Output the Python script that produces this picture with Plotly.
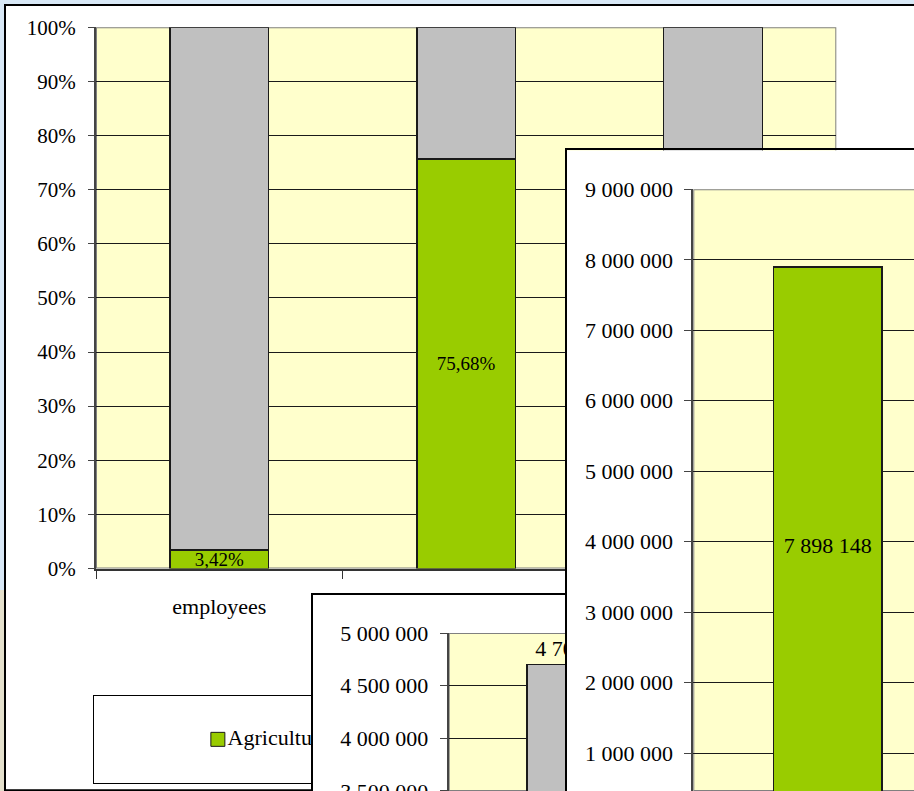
import plotly.graph_objects as go

W, H = 914, 791

# Share of agriculture vs. the rest of the economy (stacked to 100 %)
categories = ["employees", "farmland", "output"]
agri_share = [3.42, 75.68, 68.10]
other_share = [96.58, 24.32, 31.90]

# Absolute totals shown in the two single-bar panels
other_cat = ["other sectors"]
other_total = [4702531]
agri_cat = ["agriculture"]
agri_total = [7898148]

legend_names = ["Agriculture", "Other"]

GREEN = "#99CC00"
GRAY = "#C0C0C0"
YELLOW = "#FFFFCC"
FONT = "Liberation Serif"
INK = "#1a1a1a"


def fx(p):
    return p / W


def fy(p):
    return 1 - p / H


def pct(v):
    return f"{v:.2f}%".replace(".", ",")


def thousands(v):
    return f"{v:,}".replace(",", " ")


fig = go.Figure()

# --- subplot 1: stacked percentage chart ---------------------------------
fig.add_trace(go.Bar(
    x=categories, y=agri_share, name=legend_names[0], xaxis="x", yaxis="y",
    width=0.4, marker=dict(color=GREEN, line=dict(color=INK, width=1.5)),
    text=[pct(v) for v in agri_share], textposition="inside",
    insidetextanchor="middle", textangle=0, constraintext="none",
    textfont=dict(family=FONT, size=19, color="black"), hoverinfo="skip"))
fig.add_trace(go.Bar(
    x=categories, y=other_share, name=legend_names[1], xaxis="x", yaxis="y",
    width=0.4, marker=dict(color=GRAY, line=dict(color=INK, width=1.5)),
    hoverinfo="skip"))

# --- subplot 2: legend box of the percentage chart -----------------------
fig.add_trace(go.Scatter(
    x=[0.263, 0.62], y=[0.5, 0.5], xaxis="x2", yaxis="y2",
    mode="markers+text", text=legend_names, textposition="middle right",
    marker=dict(symbol="square", size=14, color=[GREEN, GRAY],
                line=dict(color=INK, width=1)),
    textfont=dict(family=FONT, size=22, color="black"), hoverinfo="skip"))

# --- subplot 3: frame of the "other sectors" panel -----------------------
fig.add_trace(go.Scatter(x=[None], y=[None], xaxis="x3", yaxis="y3",
                         mode="markers", hoverinfo="skip"))

# --- subplot 4: "other sectors" total -------------------------------------
fig.add_trace(go.Bar(
    x=other_cat, y=other_total, xaxis="x4", yaxis="y4", width=0.4,
    marker=dict(color=GRAY, line=dict(color=INK, width=1.5)),
    text=[thousands(v) for v in other_total], textposition="outside",
    textangle=0, constraintext="none",
    textfont=dict(family=FONT, size=22, color="black"), hoverinfo="skip"))

# --- subplot 5: frame of the agriculture panel ---------------------------
fig.add_trace(go.Scatter(x=[None], y=[None], xaxis="x5", yaxis="y5",
                         mode="markers", hoverinfo="skip"))

# --- subplot 6: agriculture total -----------------------------------------
fig.add_trace(go.Bar(
    x=agri_cat, y=agri_total, xaxis="x6", yaxis="y6", width=0.404,
    marker=dict(color=GREEN, line=dict(color=INK, width=1.5)),
    text=[thousands(v) for v in agri_total], textposition="inside",
    insidetextanchor="middle", textangle=0, constraintext="none",
    textfont=dict(family=FONT, size=22, color="black"), hoverinfo="skip"))

tickfont = dict(family=FONT, size=21, color="black")


def frame_axis(domain):
    return dict(domain=domain, range=[0, 1], visible=True, showticklabels=False,
                ticks="", showgrid=False, zeroline=False, showline=True,
                mirror=True, linecolor="black", fixedrange=True,
                automargin=False)


def value_yaxis(domain, rng, dtick, anchor):
    return dict(domain=domain, range=rng, dtick=dtick, tickformat=",d",
                anchor=anchor, showgrid=True, gridcolor=INK, gridwidth=1,
                zeroline=False, showline=True, linecolor="#444", linewidth=2,
                ticks="outside", ticklen=7, tickcolor="#444", tickwidth=1,
                tickfont=dict(family=FONT, size=22, color="black"),
                ticklabelstandoff=7, ticklabeloverflow="allow",
                fixedrange=True, automargin=False)


def cat_xaxis(domain, rng, anchor, cats):
    # category names sit below the visible page, so only the axis line shows
    return dict(domain=domain, range=rng, type="category", categoryarray=cats,
                anchor=anchor, showgrid=False, zeroline=False, showline=True,
                linecolor="#444", linewidth=2, ticks="", showticklabels=False,
                fixedrange=True, automargin=False)


layout = dict(
    width=W, height=H, autosize=False,
    margin=dict(l=0, r=0, t=0, b=0, pad=0, autoexpand=False),
    paper_bgcolor="#d8e8f6", plot_bgcolor="rgba(0,0,0,0)",
    showlegend=False, barmode="stack", separators=", ",
    font=dict(family=FONT, color="black"),
    xaxis=dict(domain=[fx(96), fx(836.3)], range=[-0.5, 2.5], type="category",
               categoryarray=categories, anchor="y", showgrid=False,
               zeroline=False, showline=True, linecolor="#333", linewidth=2,
               ticks="outside", ticklen=8, tickcolor="#333",
               tickson="boundaries",
               tickfont=dict(family=FONT, size=22, color="black"),
               ticklabelstandoff=17, fixedrange=True, automargin=False),
    yaxis=dict(domain=[fy(568.5), fy(27.3)], range=[0, 100], dtick=10,
               ticksuffix="%", anchor="x", showgrid=True, gridcolor=INK,
               gridwidth=1, zeroline=False, showline=True, linecolor="#444",
               linewidth=2, ticks="outside", ticklen=6, tickcolor="#444",
               tickfont=tickfont, ticklabelstandoff=8, fixedrange=True,
               automargin=False),
    xaxis2=dict(frame_axis([fx(94), fx(565)]), anchor="y2", linewidth=1),
    yaxis2=dict(frame_axis([fy(782.5), fy(696.2)]), anchor="x2", linewidth=1),
    xaxis3=dict(frame_axis([fx(312.7), fx(800)]), anchor="y3", linewidth=2),
    yaxis3=dict(frame_axis([0, fy(594.5)]), anchor="x3", linewidth=2),
    xaxis4=cat_xaxis([fx(448.7), fx(709.7)], [-0.5, 0.5], "y4", other_cat),
    yaxis4=value_yaxis([0, fy(633)], [3499000, 5000000], 500000, "x4"),
    xaxis5=dict(frame_axis([fx(567), 1]), anchor="y5", linewidth=2),
    yaxis5=dict(frame_axis([0, fy(150.3)]), anchor="x5", linewidth=2),
    xaxis6=cat_xaxis([fx(693.3), 1], [-0.5, 0.321], "y6", agri_cat),
    yaxis6=value_yaxis([0, fy(189.3)], [465000, 9000000], 1000000, "x6"),
)

shapes = [
    # backdrop strip at the lower left edge of the slide
    dict(type="rect", xref="paper", yref="paper", x0=0, x1=fx(5), y0=0,
         y1=fy(590), fillcolor="#e4e0cc", line=dict(width=0), layer="below"),
    # white chart area of the percentage chart
    dict(type="rect", xref="paper", yref="paper", x0=fx(5), x1=1.02,
         y0=fy(790.3), y1=fy(5), fillcolor="white",
         line=dict(color="black", width=2), layer="below"),
    # plot areas and frames, each drawn inside its own subplot
    dict(type="rect", xref="x", yref="y", x0=-0.5, x1=2.5, y0=0, y1=100,
         fillcolor=YELLOW, line=dict(color="#808080", width=2), layer="below"),
    dict(type="rect", xref="x2", yref="y2", x0=0, x1=1, y0=0, y1=1,
         fillcolor="white", line=dict(width=0), layer="below"),
    dict(type="rect", xref="x3", yref="y3", x0=0, x1=1, y0=0, y1=1,
         fillcolor="white", line=dict(width=0), layer="below"),
    dict(type="rect", xref="x4", yref="y4", x0=-0.5, x1=0.5, y0=3499000,
         y1=5000000, fillcolor=YELLOW, line=dict(color="#808080", width=2),
         layer="below"),
    dict(type="rect", xref="x5", yref="y5", x0=0, x1=1, y0=0, y1=1,
         fillcolor="white", line=dict(width=0), layer="below"),
    dict(type="rect", xref="x6", yref="y6", x0=-0.5, x1=0.5, y0=465000,
         y1=9000000, fillcolor=YELLOW, line=dict(color="#808080", width=2),
         layer="below"),
]
layout["shapes"] = shapes

fig.update_layout(**layout)
fig.write_html("out.html", config={"displayModeBar": False, "staticPlot": True})
